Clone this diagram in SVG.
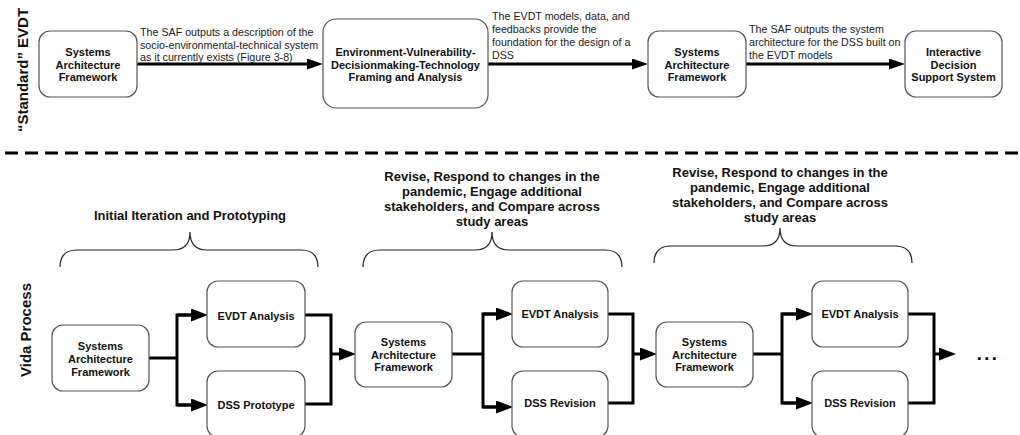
<svg xmlns="http://www.w3.org/2000/svg" width="1020" height="435" viewBox="0 0 1020 435">
<defs>
<style>
.box{fill:#fff;stroke:#555;stroke-width:1.2}
.bt{font-family:"Liberation Sans",Arial,sans-serif;font-weight:bold;font-size:11px;fill:#111;text-anchor:middle}
.lbl{font-family:"Liberation Sans",Arial,sans-serif;font-size:10.7px;fill:#222}
.hd{font-family:"Liberation Sans",Arial,sans-serif;font-weight:bold;font-size:13px;fill:#111;text-anchor:middle}
.side{font-family:"Liberation Sans",Arial,sans-serif;font-weight:bold;font-size:15px;fill:#111;text-anchor:middle}
.ln{fill:none;stroke:#000;stroke-width:3}
.br{fill:none;stroke:#222;stroke-width:1.2}
</style>
<marker id="ah" markerUnits="userSpaceOnUse" markerWidth="17" markerHeight="13" refX="8" refY="6.5" orient="auto">
<path d="M0,0 L17,6.5 L0,13 z" fill="#000"/>
</marker>
<marker id="aht" markerUnits="userSpaceOnUse" markerWidth="16" markerHeight="11" refX="8" refY="5.5" orient="auto">
<path d="M0,0 L16,5.5 L0,11 z" fill="#000"/>
</marker>
</defs>
<rect width="1020" height="435" fill="#fff"/>

<text class="side" transform="translate(28,70) rotate(-90)">“Standard” EVDT</text>
<text class="side" transform="translate(31,330) rotate(-90)">Vida Process</text>

<line x1="5" y1="153" x2="1020" y2="153" stroke="#000" stroke-width="3" stroke-dasharray="13,7"/>

<g id="connectors">
<line class="ln" x1="137" y1="64" x2="315" y2="64" marker-end="url(#aht)"/>
<line class="ln" x1="488" y1="64" x2="640" y2="64" marker-end="url(#aht)"/>
<line class="ln" x1="746" y1="64" x2="897" y2="64" marker-end="url(#aht)"/>

<polyline class="ln" points="149,358 177,358"/>
<polyline class="ln" points="199,315 177,315 177,405 199,405"/>
<line class="ln" x1="177" y1="315" x2="199" y2="315" marker-end="url(#ah)"/>
<line class="ln" x1="177" y1="405" x2="199" y2="405" marker-end="url(#ah)"/>
<polyline class="ln" points="305,315 331,315 331,404 305,404"/>
<line class="ln" x1="331" y1="354" x2="347" y2="354" marker-end="url(#ah)"/>

<polyline class="ln" points="452,354 483,354"/>
<polyline class="ln" points="504,314 483,314 483,407 504,407"/>
<line class="ln" x1="483" y1="314" x2="504" y2="314" marker-end="url(#ah)"/>
<line class="ln" x1="483" y1="407" x2="504" y2="407" marker-end="url(#ah)"/>
<polyline class="ln" points="608,314 633,314 633,403 608,403"/>
<line class="ln" x1="633" y1="354" x2="648" y2="354" marker-end="url(#ah)"/>

<polyline class="ln" points="753,354 782,354"/>
<polyline class="ln" points="804,314 782,314 782,403 804,403"/>
<line class="ln" x1="782" y1="314" x2="804" y2="314" marker-end="url(#ah)"/>
<line class="ln" x1="782" y1="403" x2="804" y2="403" marker-end="url(#ah)"/>
<polyline class="ln" points="908,314 934,314 934,403 908,403"/>
<line class="ln" x1="934" y1="354" x2="947" y2="354" marker-end="url(#ah)"/>
</g>

<g id="edge-labels">
<text class="lbl" x="140" y="36">The SAF outputs a description of the</text>
<text class="lbl" x="140" y="49">socio-environmental-technical system</text>
<text class="lbl" x="140" y="61">as it currently exists (Figure 3-8)</text>
<text class="lbl" x="492" y="20">The EVDT models, data, and</text>
<text class="lbl" x="492" y="33">feedbacks provide the</text>
<text class="lbl" x="492" y="46">foundation for the design of a</text>
<text class="lbl" x="492" y="59">DSS</text>
<text class="lbl" x="749" y="33">The SAF outputs the system</text>
<text class="lbl" x="749" y="46">architecture for the DSS built on</text>
<text class="lbl" x="749" y="59">the EVDT models</text>
</g>

<g id="top-saf1">
<rect class="box" x="39" y="31" width="98" height="66" rx="11"/>
<text class="bt" x="88" y="56">Systems</text>
<text class="bt" x="88" y="68.5">Architecture</text>
<text class="bt" x="88" y="81">Framework</text>
</g>
<g id="top-evdt">
<rect class="box" x="323" y="19" width="165" height="89" rx="13"/>
<text class="bt" x="405.5" y="56">Environment-Vulnerability-</text>
<text class="bt" x="405.5" y="68.5">Decisionmaking-Technology</text>
<text class="bt" x="405.5" y="81">Framing and Analysis</text>
</g>
<g id="top-saf2">
<rect class="box" x="648" y="31" width="98" height="66" rx="11"/>
<text class="bt" x="697" y="56">Systems</text>
<text class="bt" x="697" y="68.5">Architecture</text>
<text class="bt" x="697" y="81">Framework</text>
</g>
<g id="top-dss">
<rect class="box" x="905" y="31" width="97" height="66" rx="11"/>
<text class="bt" x="953.5" y="56">Interactive</text>
<text class="bt" x="953.5" y="68.5">Decision</text>
<text class="bt" x="953.5" y="81">Support System</text>
</g>

<g id="brace1">
<path class="br" d="M60,267 Q60,250 77,250 L173,250 Q190,250 190,232 Q190,250 207,250 L301,250 Q318,250 318,267"/>
<text class="hd" x="190" y="220">Initial Iteration and Prototyping</text>
</g>
<g id="brace2">
<path class="br" d="M363,267 Q363,250 380,250 L475,250 Q492,250 492,232 Q492,250 509,250 L605,250 Q622,250 622,267"/>
<text class="hd" x="492" y="181">Revise, Respond to changes in the</text>
<text class="hd" x="492" y="196">pandemic, Engage additional</text>
<text class="hd" x="492" y="211">stakeholders, and Compare across</text>
<text class="hd" x="492" y="226">study areas</text>
</g>
<g id="brace3">
<path class="br" d="M654,263 Q654,246 671,246 L763,246 Q780,246 780,228 Q780,246 797,246 L895,246 Q912,246 912,263"/>
<text class="hd" x="780" y="177">Revise, Respond to changes in the</text>
<text class="hd" x="780" y="192">pandemic, Engage additional</text>
<text class="hd" x="780" y="207">stakeholders, and Compare across</text>
<text class="hd" x="780" y="222">study areas</text>
</g>

<g id="saf-1">
<rect class="box" x="52" y="325" width="97" height="66" rx="11"/>
<text class="bt" x="100.5" y="350">Systems</text>
<text class="bt" x="100.5" y="363">Architecture</text>
<text class="bt" x="100.5" y="376">Framework</text>
</g>
<g id="evdt-1">
<rect class="box" x="207" y="281" width="98" height="66" rx="11"/>
<text class="bt" x="256" y="320">EVDT Analysis</text>
</g>
<g id="dss-1">
<rect class="box" x="207" y="371" width="98" height="66" rx="11"/>
<text class="bt" x="256" y="409">DSS Prototype</text>
</g>

<g id="saf-2">
<rect class="box" x="355" y="322" width="97" height="65" rx="11"/>
<text class="bt" x="403.5" y="346">Systems</text>
<text class="bt" x="403.5" y="358.5">Architecture</text>
<text class="bt" x="403.5" y="371">Framework</text>
</g>
<g id="evdt-2">
<rect class="box" x="512" y="281" width="96" height="66" rx="11"/>
<text class="bt" x="560" y="318">EVDT Analysis</text>
</g>
<g id="dss-2">
<rect class="box" x="512" y="371" width="96" height="66" rx="11"/>
<text class="bt" x="560" y="407">DSS Revision</text>
</g>

<g id="saf-3">
<rect class="box" x="656" y="322" width="97" height="65" rx="11"/>
<text class="bt" x="704.5" y="346">Systems</text>
<text class="bt" x="704.5" y="358.5">Architecture</text>
<text class="bt" x="704.5" y="371">Framework</text>
</g>
<g id="evdt-3">
<rect class="box" x="812" y="281" width="96" height="66" rx="11"/>
<text class="bt" x="860" y="318">EVDT Analysis</text>
</g>
<g id="dss-3">
<rect class="box" x="812" y="371" width="96" height="66" rx="11"/>
<text class="bt" x="860" y="407">DSS Revision</text>
</g>

<g id="ellipsis">
<text x="988" y="360" font-family="'Liberation Sans',Arial,sans-serif" font-weight="bold" font-size="18" letter-spacing="2.5" text-anchor="middle" fill="#000">...</text>
</g>
</svg>
